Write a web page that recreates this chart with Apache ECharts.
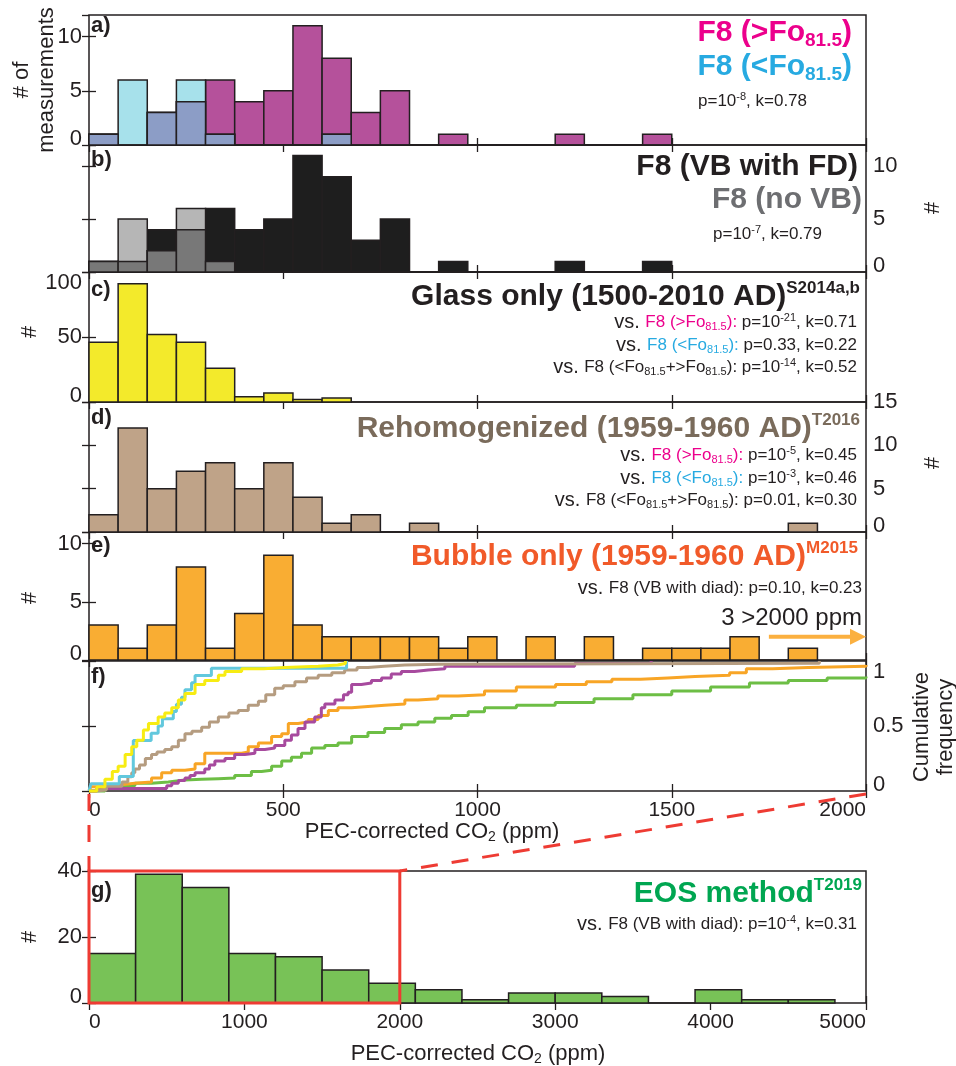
<!DOCTYPE html>
<html><head><meta charset="utf-8">
<script src="https://cdn.jsdelivr.net/npm/echarts@6/dist/echarts.min.js"></script>
<style>html,body{margin:0;padding:0;background:#fff}#c{width:956px;height:1066px}</style>
</head><body><div id="c"></div>
<script>
// ---------------- DATA ----------------
const binWidthTop = 75;      // ppm, histograms a-e
const binWidthEOS = 300;     // ppm, histogram g
// a) F8 >Fo81.5 and <Fo81.5
const f8High = [1,0,3,4,6,4,5,11,8,3,5,0,1,0,0,0,1,0,0,1];
const f8Low  = [1,6,3,6,1,0,0,0,1];
// b) F8 VB with FD and no VB
const f8VB   = [1,1,4,4,6,4,5,11,9,3,5,0,1,0,0,0,1,0,0,1];
const f8NoVB = [1,5,2,6,1];
// c) glass only
const glassOnly = [46,91,52,46,26,4,7,2,3];
// d) rehomogenized
const rehom = [2,12,5,7,8,5,8,4,1,2,0,1,0,0,0,0,0,0,0,0,0,0,0,0,1];
// e) bubble only
const bubbleOnly = [3,1,3,8,1,4,9,3,2,2,2,2,1,2,0,2,0,2,0,1,1,1,2,0,1];
// g) EOS method
const eosMethod = [15,39,35,15,14,10,6,4,1,3,3,2,0,4,1,1];

// f) cumulative frequency curves [ppm, fraction]
const cdfGlass = [[0,0],[12,0],[20,0.03],[41,0.09],[60,0.15],[75,0.19],[93,0.28],[110,0.34],[123,0.39],[140,0.47],[153,0.52],[178,0.57],[195,0.6],[213,0.64],[230,0.7],[247,0.75],[273,0.82],[298,0.85],[333,0.89],[350,0.92],[393,0.94],[450,0.95],[504,0.96],[590,0.97],[640,0.98],[660,1.0]];
const cdfLow = [[0,0],[5,0.056],[78,0.111],[114,0.389],[160,0.444],[178,0.5],[189,0.556],[217,0.611],[225,0.667],[238,0.722],[247,0.778],[264,0.833],[273,0.889],[315,0.944],[663,1.0]];
const cdfRehom = [[0,0],[20,0.01],[45,0.036],[85,0.07],[100,0.11],[110,0.14],[118,0.17],[130,0.2],[145,0.25],[161,0.28],[175,0.3],[195,0.32],[213,0.34],[230,0.39],[247,0.44],[265,0.46],[290,0.49],[310,0.53],[333,0.57],[360,0.6],[384,0.62],[410,0.66],[436,0.69],[455,0.74],[478,0.79],[500,0.81],[530,0.84],[560,0.87],[590,0.89],[625,0.91],[658,0.93],[690,0.95],[718,0.96],[760,0.97],[813,0.975],[900,0.982],[1880,1.0]];
const cdfHigh = [[0,0],[20,0.019],[187,0.019],[200,0.04],[213,0.06],[230,0.08],[247,0.1],[260,0.12],[273,0.14],[298,0.17],[310,0.2],[324,0.23],[350,0.25],[375,0.28],[401,0.29],[427,0.32],[453,0.33],[478,0.35],[504,0.39],[521,0.43],[538,0.48],[556,0.53],[581,0.57],[598,0.64],[607,0.67],[633,0.7],[655,0.74],[667,0.76],[676,0.82],[701,0.83],[727,0.85],[753,0.87],[778,0.9],[804,0.92],[838,0.93],[873,0.94],[916,0.96],[1250,0.98],[1447,1.0]];
const cdfBubble = [[0,0],[5,0.033],[33,0.046],[75,0.06],[118,0.07],[161,0.1],[187,0.14],[213,0.16],[247,0.17],[273,0.21],[298,0.29],[393,0.3],[410,0.34],[436,0.37],[470,0.42],[496,0.44],[513,0.52],[538,0.53],[564,0.55],[590,0.58],[616,0.62],[641,0.64],[676,0.65],[718,0.66],[761,0.67],[813,0.7],[847,0.71],[898,0.73],[950,0.74],[1018,0.77],[1100,0.8],[1201,0.82],[1280,0.84],[1346,0.86],[1420,0.87],[1490,0.88],[1560,0.89],[1649,0.91],[1692,0.94],[1760,0.95],[1851,0.96],[2000,0.97]];
const cdfEOS = [[0,0],[15,0],[41,0.02],[75,0.04],[118,0.06],[161,0.07],[204,0.085],[247,0.09],[290,0.095],[333,0.1],[375,0.12],[418,0.15],[444,0.16],[470,0.19],[496,0.23],[521,0.26],[547,0.29],[573,0.33],[607,0.35],[641,0.37],[676,0.42],[718,0.45],[761,0.48],[804,0.51],[847,0.53],[890,0.56],[933,0.58],[976,0.61],[1018,0.64],[1100,0.66],[1200,0.68],[1300,0.71],[1400,0.74],[1500,0.77],[1600,0.8],[1700,0.83],[1800,0.85],[1900,0.87],[2000,0.88]];

// axis tick settings per panel
const xMaxTop = 2000, xTickTop = 500;
const xMaxEOS = 5000, xTickEOS = 1000;
const yMaxes = [12, 12, 100, 15, 11, 1, 40];
const yTicks = [5, 5, 50, 5, 5, 0.5, 20];

// ---------------- LAYOUT / STYLE ----------------
const FONT = "'Liberation Sans', Arial, sans-serif";
const INK = '#231F20';
const layout = [
  {top:15,  height:130, side:'left'},
  {top:145, height:127, side:'right'},
  {top:272, height:130, side:'left'},
  {top:402, height:130, side:'right'},
  {top:532, height:128, side:'left'},
  {top:661, height:130, side:'right', xLabels:true},
  {top:871, height:132, side:'left', xLabels:true}
];
const LEFT = 89, WIDTH = 777;

const grids = [], xAxes = [], yAxes = [];
layout.forEach((p, i) => {
  grids.push({left:LEFT, width:WIDTH, top:p.top, height:p.height, show:true,
    borderColor:INK, borderWidth:1.5, backgroundColor:'transparent', containLabel:false});
  const isEOS = i === 6;
  const xBase = {type:'value', gridIndex:i, min:0, max: isEOS ? xMaxEOS : xMaxTop,
    interval: isEOS ? xTickEOS : xTickTop,
    axisLine:{show:false}, splitLine:{show:false},
    axisTick:{show:true, inside:true, length:7, lineStyle:{color:INK, width:1.3}}};
  xAxes.push(Object.assign({}, xBase, {position:'bottom',
    axisLabel:{show: !!p.xLabels, color:INK, fontSize:21, fontFamily:FONT, margin:9,
      formatter: v => String(v), alignMinLabel:'left', alignMaxLabel:'right'}}));
  xAxes.push(Object.assign({}, xBase, {position:'top', axisLabel:{show:false}}));
  const yBase = {type:'value', gridIndex:i, min:0, max:yMaxes[i], interval:yTicks[i],
    axisLine:{show:false}, splitLine:{show:false},
    axisTick:{show:true, inside:true, length:7, lineStyle:{color:INK, width:1.3}}};
  const lab = {color:INK, fontSize:22, fontFamily:FONT, margin:7, showMaxLabel:false,
    formatter: v => (v === 0 ? '{z|0}' : String(v)),
    rich:{z:{fontSize:22, fontFamily:FONT, color:INK, padding:[0,0,12,0]}}};
  if (yMaxes[i] % yTicks[i] === 0) lab.showMaxLabel = true;
  if (i === 2 || i === 5) lab.verticalAlignMaxLabel = 'top';
  yAxes.push(Object.assign({}, yBase, {position:'left',
    axisLabel: p.side === 'left' ? lab : {show:false}}));
  yAxes.push(Object.assign({}, yBase, {position:'right',
    axisLabel: p.side === 'right' ? lab : {show:false}}));
});

function hist(panel, heights, width, fill, z) {
  return {
    type:'custom', xAxisIndex:panel*2, yAxisIndex:panel*2, z:z||2, silent:true, clip:false,
    data: heights.map((h, k) => [k*width, (k+1)*width, h]),
    encode:{x:[0,1], y:2},
    renderItem(params, api) {
      const p0 = api.coord([api.value(0), api.value(2)]);
      const p1 = api.coord([api.value(1), 0]);
      return {type:'rect', shape:{x:p0[0], y:p0[1], width:p1[0]-p0[0], height:p1[1]-p0[1]},
        style:{fill:fill, stroke:INK, lineWidth:1.5}};
    }
  };
}
const overlap = (A, B) => A.map((v, k) => Math.min(v, B[k] || 0));

function cdf(data, color, z) {
  return {type:'line', xAxisIndex:10, yAxisIndex:10, data:data, step:'end', showSymbol:false,
    symbol:'none', clip:false, z:z, silent:true, lineStyle:{color:color, width:3}};
}

const series = [
  hist(0, f8High, binWidthTop, '#B5519B', 2),
  hist(0, f8Low, binWidthTop, '#A7E1EB', 2),
  hist(0, overlap(f8High, f8Low), binWidthTop, '#8C9DC6', 3),
  hist(1, f8VB, binWidthTop, '#1E1E1E', 2),
  hist(1, f8NoVB, binWidthTop, '#B6B6B6', 2),
  hist(1, overlap(f8VB, f8NoVB), binWidthTop, '#787878', 3),
  hist(2, glassOnly, binWidthTop, '#F3EA2B', 2),
  hist(3, rehom, binWidthTop, '#BFA388', 2),
  hist(4, bubbleOnly, binWidthTop, '#F9AD33', 2),
  cdf(cdfEOS, '#6DBE45', 4),
  cdf(cdfBubble, '#F8A526', 5),
  cdf(cdfHigh, '#A74A9E', 6),
  cdf(cdfRehom, '#B59C80', 7),
  cdf(cdfLow, '#62C8DD', 8),
  cdf(cdfGlass, '#F7EC13', 9),
  hist(6, eosMethod, binWidthEOS, '#78C257', 2),
  // red zoom box on g: 0-2000 ppm, full height
  {type:'custom', xAxisIndex:12, yAxisIndex:12, z:20, silent:true, clip:false,
    data:[[0, 2000, 40]], encode:{x:[0,1], y:2},
    renderItem(params, api) {
      const p0 = api.coord([api.value(0), api.value(2)]);
      const p1 = api.coord([api.value(1), 0]);
      return {type:'rect', shape:{x:p0[0], y:p0[1], width:p1[0]-p0[0], height:p1[1]-p0[1]},
        style:{fill:'none', stroke:'#EE3B33', lineWidth:3}};
    }}
];

// ---------------- TEXT ----------------
const PINK = '#EC008C', CYAN = '#27AAE1', GREY = '#6D6E71', TAUPE = '#7A6B5B',
      ORANGE = '#F15A29', GREEN = '#00A651';
function big(color) { return {fontSize:30, fontWeight:'bold', fontFamily:FONT, fill:color, lineHeight:34}; }
function bigSub(color) { return {fontSize:19, fontWeight:'bold', fontFamily:FONT, fill:color, lineHeight:8, verticalAlign:'bottom'}; }
function bigSup(color) { return {fontSize:17, fontWeight:'bold', fontFamily:FONT, fill:color, lineHeight:26, verticalAlign:'top'}; }
function sm(color) { return {fontSize:17, fontFamily:FONT, fill:color, lineHeight:20}; }
function smSub(color) { return {fontSize:11, fontFamily:FONT, fill:color, lineHeight:8, verticalAlign:'bottom'}; }
function smSup(color) { return {fontSize:11, fontFamily:FONT, fill:color, lineHeight:12, verticalAlign:'top'}; }
const smRich = {
  vs:{fontSize:20, fontFamily:FONT, fill:INK, lineHeight:20},
  k:sm(INK), kb:smSub(INK), ku:smSup(INK),
  p:sm(PINK), pb:smSub(PINK), c:sm(CYAN), cb:smSub(CYAN)
};
function T(x, y, text, rich, align) {
  return {type:'text', x:x, y:y, z:100, silent:true,
    style:{text:text, rich:rich, align:align||'right', verticalAlign:'middle',
      textAlign:align||'right', textVerticalAlign:'middle', font:'17px ' + FONT, fill:INK}};
}
function plain(x, y, text, size, weight, rotation, align) {
  return {type:'text', x:x, y:y, z:100, silent:true, rotation:rotation||0,
    style:{text:text, align:align||'center', verticalAlign:'middle', textAlign:align||'center',
      textVerticalAlign:'middle', fontSize:size, fontWeight:weight||'normal', fontFamily:FONT,
      fill:INK, lineHeight:size*1.1}};
}
const UP = Math.PI/2;

const texts = [
  // panel letters
  plain(91, 26, 'a)', 22, 'bold', 0, 'left'),
  plain(91, 160, 'b)', 22, 'bold', 0, 'left'),
  plain(91, 290, 'c)', 22, 'bold', 0, 'left'),
  plain(91, 418, 'd)', 22, 'bold', 0, 'left'),
  plain(91, 546, 'e)', 22, 'bold', 0, 'left'),
  plain(91, 677, 'f)', 22, 'bold', 0, 'left'),
  plain(91, 891, 'g)', 22, 'bold', 0, 'left'),
  // a
  T(852, 33, '{m|F8 (>Fo}{s|81.5}{m|)}', {m:big(PINK), s:bigSub(PINK)}),
  T(852, 67, '{m|F8 (<Fo}{s|81.5}{m|)}', {m:big(CYAN), s:bigSub(CYAN)}),
  T(698, 101, '{k|p=10}{ku|-8}{k|, k=0.78}', smRich, 'left'),
  // b
  T(858, 167, '{m|F8 (VB with FD)}', {m:big(INK)}),
  T(862, 200, '{m|F8 (no VB)}', {m:big(GREY)}),
  T(713, 234, '{k|p=10}{ku|-7}{k|, k=0.79}', smRich, 'left'),
  // c
  T(860, 297, '{m|Glass only (1500-2010 AD)}{u|S2014a,b}', {m:big(INK), u:bigSup(INK)}),
  T(857, 322, '{vs|vs. }{p|F8 (>Fo}{pb|81.5}{p|):}{k| p=10}{ku|-21}{k|, k=0.71}', smRich),
  T(857, 345, '{vs|vs. }{c|F8 (<Fo}{cb|81.5}{c|):}{k| p=0.33, k=0.22}', smRich),
  T(857, 367, '{vs|vs. }{k|F8 (<Fo}{kb|81.5}{k|+>Fo}{kb|81.5}{k|): p=10}{ku|-14}{k|, k=0.52}', smRich),
  // d
  T(860, 429, '{m|Rehomogenized (1959-1960 AD)}{u|T2016}', {m:big(TAUPE), u:bigSup(TAUPE)}),
  T(857, 455, '{vs|vs. }{p|F8 (>Fo}{pb|81.5}{p|):}{k| p=10}{ku|-5}{k|, k=0.45}', smRich),
  T(857, 478, '{vs|vs. }{c|F8 (<Fo}{cb|81.5}{c|):}{k| p=10}{ku|-3}{k|, k=0.46}', smRich),
  T(857, 500, '{vs|vs. }{k|F8 (<Fo}{kb|81.5}{k|+>Fo}{kb|81.5}{k|): p=0.01, k=0.30}', smRich),
  // e
  T(858, 557, '{m|Bubble only (1959-1960 AD)}{u|M2015}', {m:big(ORANGE), u:bigSup(ORANGE)}),
  T(862, 588, '{vs|vs. }{k|F8 (VB with diad): p=0.10, k=0.23}', smRich),
  T(862, 618, '{t|3 >2000 ppm}', {t:{fontSize:24, fontFamily:FONT, fill:INK, lineHeight:26}}),
  // g
  T(862, 894, '{m|EOS method}{u|T2019}', {m:big(GREEN), u:bigSup(GREEN)}),
  T(857, 924, '{vs|vs. }{k|F8 (VB with diad): p=10}{ku|-4}{k|, k=0.31}', smRich),
  // axis names
  plain(22, 80, '# of', 22, 'normal', UP),
  plain(47, 80, 'measurements', 22, 'normal', UP),
  plain(30, 332, '#', 22, 'normal', UP),
  plain(30, 598, '#', 22, 'normal', UP),
  plain(30, 937, '#', 22, 'normal', UP),
  plain(933, 208, '#', 22, 'normal', UP),
  plain(933, 463, '#', 22, 'normal', UP),
  plain(922, 727, 'Cumulative', 22, 'normal', UP),
  plain(946, 727, 'frequency', 22, 'normal', UP),
  T(432, 832, '{a|PEC-corrected CO}{b|2}{a| (ppm)}',
    {a:{fontSize:22, fontFamily:FONT, fill:INK, lineHeight:24}, b:{fontSize:14, fontFamily:FONT, fill:INK, lineHeight:8, verticalAlign:'bottom'}}, 'center'),
  T(478, 1054, '{a|PEC-corrected CO}{b|2}{a| (ppm)}',
    {a:{fontSize:22, fontFamily:FONT, fill:INK, lineHeight:24}, b:{fontSize:14, fontFamily:FONT, fill:INK, lineHeight:8, verticalAlign:'bottom'}}, 'center')
];

const chart = echarts.init(document.getElementById('c'), null, {renderer:'canvas'});
chart.setOption({animation:false, backgroundColor:'#fff', grid:grids, xAxis:xAxes, yAxis:yAxes,
  series:series, graphic:{elements:texts}});

// connectors and arrow, placed through the axes' own scales
const fBL = chart.convertToPixel({xAxisIndex:10, yAxisIndex:10}, [0, 0]);
const fBR = chart.convertToPixel({xAxisIndex:10, yAxisIndex:10}, [2000, 0]);
const gTL = chart.convertToPixel({xAxisIndex:12, yAxisIndex:12}, [0, 40]);
const gTR = chart.convertToPixel({xAxisIndex:12, yAxisIndex:12}, [2000, 40]);
const aS = chart.convertToPixel({xAxisIndex:8, yAxisIndex:8}, [1750, 2]);
const aE = chart.convertToPixel({xAxisIndex:8, yAxisIndex:8}, [2000, 2]);
const dash = {stroke:'#EE3B33', lineWidth:3, lineDash:[17, 14]};
chart.setOption({graphic:{elements: texts.concat([
  {type:'line', z:50, shape:{x1:fBL[0], y1:fBL[1]+3, x2:gTL[0], y2:gTL[1]}, style:dash},
  {type:'line', z:50, shape:{x1:fBR[0], y1:fBR[1]+3, x2:gTR[0], y2:gTR[1]}, style:dash},
  {type:'line', z:50, shape:{x1:aS[0], y1:aS[1], x2:aE[0]-14, y2:aE[1]}, style:{stroke:'#FBB040', lineWidth:4}},
  {type:'polygon', z:50, shape:{points:[[aE[0]-16, aE[1]-8],[aE[0], aE[1]],[aE[0]-16, aE[1]+8]]}, style:{fill:'#FBB040'}}
])}});
</script>
</body></html>
